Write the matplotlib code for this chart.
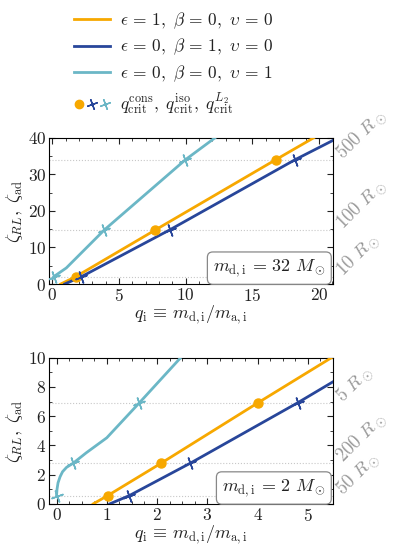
"""
Critical mass ratio panels: zeta_RL vs q_i for two donor masses.
Output: out.png
"""
import numpy as np
import matplotlib
matplotlib.use("Agg")
import matplotlib.pyplot as plt
from matplotlib.lines import Line2D
from matplotlib.legend_handler import HandlerTuple
from matplotlib.ticker import MultipleLocator
import matplotlib.transforms as mtransforms

plt.rcParams["font.family"] = "serif"
plt.rcParams["font.serif"] = ["cmr10", "DejaVu Serif"]
plt.rcParams["mathtext.fontset"] = "cm"
plt.rcParams["axes.formatter.use_mathtext"] = True

# colours of the three models
C_CONS = "#F7A800"
C_ISO = "#28469A"
C_L2 = "#6BB7C6"

# --- top panel: m_d,i = 32 Msun ---
top_cons_q = [0.63, 1.75, 7.73, 16.75, 19.6]
top_cons_z = [0.0, 2.0, 14.8, 34.0, 40.0]
top_iso_q = [0.93, 2.18, 8.8, 18.2, 21.05]
top_iso_z = [0.0, 2.0, 14.8, 34.0, 39.3]
top_l2_q = [0.02, 0.1, 1.05, 3.9, 9.98, 12.2]
top_l2_z = [1.5, 2.0, 4.4, 14.8, 34.0, 40.0]
top_crit_cons = [1.75, 7.73, 16.75]
top_crit_iso = [2.18, 8.8, 18.2]
top_crit_l2 = [0.1, 3.9, 9.98]
top_levels = [2.0, 14.8, 34.0]
top_radii = [r"$10\ R_\odot$", r"$100\ R_\odot$", r"$500\ R_\odot$"]

# --- bottom panel: m_d,i = 2 Msun ---
bot_cons_q = [0.73, 1.02, 2.08, 4.01, 5.47]
bot_cons_z = [0.0, 0.57, 2.78, 6.92, 10.0]
bot_iso_q = [1.06, 1.45, 2.66, 4.8, 5.5]
bot_iso_z = [0.0, 0.57, 2.78, 6.92, 8.35]
bot_l2_q = [0.0, 0.01, 0.03, 0.07, 0.12, 0.2, 0.33, 0.59, 1.0, 1.65, 2.47]
bot_l2_z = [0.57, 1.0, 1.44, 1.85, 2.2, 2.5, 2.78, 3.49, 4.52, 6.92, 10.0]
bot_crit_cons = [1.02, 2.08, 4.01]
bot_crit_iso = [1.45, 2.66, 4.8]
bot_crit_l2 = [0.0, 0.33, 1.65]
bot_levels = [0.57, 2.78, 6.92]
bot_radii = [r"$50\ R_\odot$", r"$200\ R_\odot$", r"$5\ R_\odot$"]

CROSS = (4, 2, 20)
INK = "#222222"


def panel(ax, cons, iso, l2, crit, levels, radii, label, xlim, ylim):
    for y in levels:
        ax.axhline(y, color="#c8c8c8", ls=":", lw=0.8, zorder=1)
    ax.plot(*cons, color=C_CONS, lw=2, zorder=3)
    ax.plot(*iso, color=C_ISO, lw=2, zorder=3)
    ax.plot(*l2, color=C_L2, lw=2, zorder=3)
    ax.plot(crit[0], levels, "o", color=C_CONS, ms=6.5, zorder=4)
    ax.plot(crit[1], levels, ls="none", marker=CROSS, color=C_ISO, ms=9, mew=1.1, zorder=4)
    ax.plot(crit[2], levels, ls="none", marker=CROSS, color=C_L2, ms=9, mew=1.1, zorder=4)
    # radius labels on the right, baseline sitting on the dotted level
    trans = mtransforms.blended_transform_factory(ax.transAxes, ax.transData)
    for y, r in zip(levels, radii):
        ax.text(1.035, y, r, transform=trans, rotation=45, rotation_mode="anchor",
                ha="left", va="baseline", color="#999999", fontsize=13.5, clip_on=False)
    ax.text(0.975, 0.035, label, transform=ax.transAxes, ha="right", va="bottom",
            fontsize=13, color=INK,
            bbox=dict(boxstyle="round,pad=0.3", fc="white", ec="#888888", lw=0.9))
    ax.set_xlim(*xlim)
    ax.set_ylim(*ylim)
    ax.tick_params(which="both", direction="in", top=True, right=True, labelsize=12.5,
                   colors=INK, pad=2)
    ax.tick_params(which="major", length=4)
    ax.tick_params(which="minor", length=2)
    ax.set_xlabel(r"$q_{\rm i} \,\equiv\, m_{\rm d,i}/m_{\rm a,i}$", fontsize=13,
                  labelpad=0, color=INK)
    ax.set_ylabel(r"$\zeta_{RL},\ \zeta_{\rm ad}$", fontsize=13, labelpad=2, color=INK)


fig = plt.figure(figsize=(3.95, 5.58), dpi=100)
ax1 = fig.add_axes([0.124, 0.491, 0.719, 0.262])
ax2 = fig.add_axes([0.124, 0.097, 0.719, 0.262])

panel(ax1, (top_cons_q, top_cons_z), (top_iso_q, top_iso_z), (top_l2_q, top_l2_z),
      (top_crit_cons, top_crit_iso, top_crit_l2), top_levels, top_radii,
      r"$m_{\rm d,i} \,=\, 32\ M_\odot$", (-0.25, 21.05), (0, 40))
ax1.xaxis.set_major_locator(MultipleLocator(5))
ax1.xaxis.set_minor_locator(MultipleLocator(1))
ax1.yaxis.set_major_locator(MultipleLocator(10))
ax1.yaxis.set_minor_locator(MultipleLocator(5))

panel(ax2, (bot_cons_q, bot_cons_z), (bot_iso_q, bot_iso_z), (bot_l2_q, bot_l2_z),
      (bot_crit_cons, bot_crit_iso, bot_crit_l2), bot_levels, bot_radii,
      r"$m_{\rm d,i} \,=\, 2\ M_\odot$", (-0.15, 5.5), (0, 10))
ax2.xaxis.set_major_locator(MultipleLocator(1))
ax2.xaxis.set_minor_locator(MultipleLocator(0.25))
ax2.yaxis.set_major_locator(MultipleLocator(2))
ax2.yaxis.set_minor_locator(MultipleLocator(1))

handles = [
    Line2D([], [], color=C_CONS, lw=2),
    Line2D([], [], color=C_ISO, lw=2),
    Line2D([], [], color=C_L2, lw=2),
    (Line2D([], [], ls="none", marker="o", color=C_CONS, ms=6),
     Line2D([], [], ls="none", marker=CROSS, color=C_ISO, ms=8),
     Line2D([], [], ls="none", marker=CROSS, color=C_L2, ms=8)),
]
labels = [
    r"$\epsilon \,=\, 1,\ \beta \,=\, 0,\ \upsilon \,=\, 0$",
    r"$\epsilon \,=\, 0,\ \beta \,=\, 1,\ \upsilon \,=\, 0$",
    r"$\epsilon \,=\, 0,\ \beta \,=\, 0,\ \upsilon \,=\, 1$",
    r"$q_{\rm crit}^{\rm cons},\ q_{\rm crit}^{\rm iso},\ q_{\rm crit}^{L_2}$",
]
leg = fig.legend(handles, labels, loc="upper left", bbox_to_anchor=(0.178, 0.988),
                 frameon=False, fontsize=12.5, handlelength=2.1, handletextpad=0.55,
                 labelspacing=0.36, borderpad=0.2, borderaxespad=0,
                 handler_map={tuple: HandlerTuple(ndivide=None, pad=0.1)})
for t in leg.get_texts():
    t.set_color(INK)

fig.savefig("out.png", dpi=100)
